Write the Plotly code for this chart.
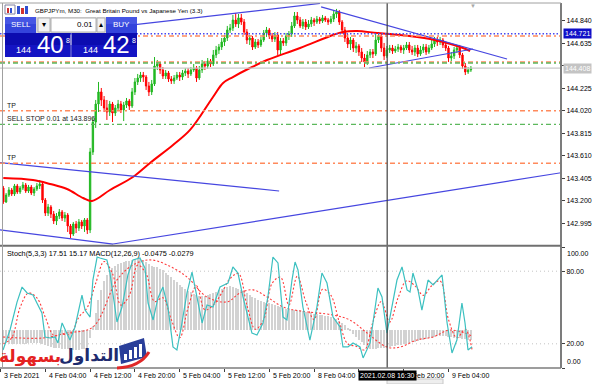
import plotly.graph_objects as go

# ---------------- data ----------------
first_open = 143.316
closes = [143.189, 143.252, 143.298, 143.262, 143.335, 143.280, 143.316, 143.344, 143.289, 143.325,
 143.271, 143.307, 143.335, 143.353, 143.207, 143.088, 143.143, 143.079, 143.016, 143.061,
 143.098, 143.043, 143.070, 142.970, 142.897, 142.988, 142.952, 143.007, 142.970, 143.025,
 142.934, 143.644, 143.917, 144.081, 144.191, 144.118, 144.045, 144.008, 144.081, 143.999,
 144.045, 144.081, 144.027, 144.072, 144.109, 144.063, 144.191, 144.282, 144.318, 144.345,
 144.327, 144.245, 144.191, 144.264, 144.427, 144.446, 144.391, 144.336, 144.364, 144.309,
 144.291, 144.318, 144.345, 144.327, 144.364, 144.382, 144.355, 144.391, 144.409, 144.318,
 144.391, 144.446, 144.427, 144.473, 144.446, 144.528, 144.573, 144.600, 144.646, 144.682,
 144.755, 144.773, 144.846, 144.810, 144.865, 144.828, 144.737, 144.664, 144.682, 144.600,
 144.646, 144.619, 144.664, 144.728, 144.755, 144.701, 144.673, 144.710, 144.573, 144.655,
 144.637, 144.701, 144.719, 144.792, 144.883, 144.846, 144.792, 144.828, 144.783, 144.810,
 144.846, 144.828, 144.855, 144.837, 144.865, 144.846, 144.828, 144.855, 144.901, 144.919,
 144.828, 144.755, 144.682, 144.628, 144.664, 144.591, 144.610, 144.555, 144.500, 144.464,
 144.528, 144.555, 144.537, 144.664, 144.701, 144.591, 144.519, 144.573, 144.591, 144.564,
 144.582, 144.600, 144.573, 144.591, 144.619, 144.573, 144.555, 144.591, 144.537, 144.573,
 144.600, 144.555, 144.591, 144.628, 144.664, 144.646, 144.664, 144.619, 144.591, 144.500,
 144.519, 144.573, 144.591, 144.528, 144.427, 144.373, 144.391, 144.408]
highs = [143.335, 143.271, 143.325, 143.316, 143.353, 143.353, 143.335, 143.371, 143.362, 143.344,
 143.344, 143.325, 143.362, 143.389, 143.380, 143.225, 143.171, 143.161, 143.107, 143.088,
 143.125, 143.116, 143.098, 143.088, 142.988, 143.007, 143.016, 143.034, 143.025, 143.043,
 143.043, 143.681, 143.954, 144.118, 144.282, 144.227, 144.154, 144.118, 144.109, 144.100,
 144.072, 144.118, 144.109, 144.100, 144.136, 144.127, 144.227, 144.318, 144.355, 144.373,
 144.373, 144.345, 144.282, 144.300, 144.509, 144.482, 144.464, 144.418, 144.391, 144.382,
 144.336, 144.345, 144.373, 144.373, 144.391, 144.409, 144.409, 144.418, 144.446, 144.427,
 144.427, 144.482, 144.473, 144.500, 144.491, 144.573, 144.610, 144.628, 144.682, 144.710,
 144.792, 144.810, 144.892, 144.910, 144.901, 144.901, 144.855, 144.764, 144.710, 144.701,
 144.673, 144.673, 144.692, 144.755, 144.783, 144.773, 144.728, 144.737, 144.737, 144.682,
 144.682, 144.728, 144.746, 144.828, 144.919, 144.919, 144.874, 144.855, 144.855, 144.846,
 144.874, 144.865, 144.883, 144.874, 144.892, 144.883, 144.865, 144.883, 144.937, 144.947,
 144.937, 144.846, 144.783, 144.719, 144.692, 144.682, 144.646, 144.628, 144.591, 144.537,
 144.564, 144.582, 144.582, 144.728, 144.737, 144.719, 144.637, 144.610, 144.619, 144.619,
 144.610, 144.628, 144.619, 144.619, 144.646, 144.646, 144.610, 144.619, 144.619, 144.610,
 144.628, 144.628, 144.619, 144.664, 144.692, 144.692, 144.692, 144.682, 144.646, 144.610,
 144.555, 144.600, 144.619, 144.619, 144.546, 144.455, 144.418, 144.427]
lows = [143.171, 143.180, 143.234, 143.243, 143.243, 143.262, 143.262, 143.298, 143.271, 143.271,
 143.252, 143.243, 143.289, 143.307, 143.180, 143.061, 143.061, 143.043, 142.988, 142.979,
 143.034, 143.016, 143.007, 142.916, 142.861, 142.879, 142.906, 142.925, 142.943, 142.916,
 142.897, 142.906, 143.617, 143.863, 144.008, 144.063, 144.008, 143.936, 143.972, 143.917,
 143.972, 144.018, 143.999, 143.926, 144.045, 144.027, 144.045, 144.163, 144.254, 144.282,
 144.282, 144.209, 144.154, 144.163, 144.245, 144.391, 144.355, 144.309, 144.309, 144.282,
 144.264, 144.264, 144.300, 144.291, 144.300, 144.336, 144.318, 144.336, 144.373, 144.282,
 144.300, 144.364, 144.391, 144.400, 144.418, 144.427, 144.500, 144.537, 144.573, 144.610,
 144.655, 144.728, 144.746, 144.783, 144.773, 144.801, 144.710, 144.628, 144.619, 144.573,
 144.582, 144.591, 144.600, 144.646, 144.692, 144.673, 144.646, 144.646, 144.528, 144.528,
 144.610, 144.610, 144.664, 144.692, 144.773, 144.810, 144.773, 144.764, 144.755, 144.764,
 144.783, 144.792, 144.810, 144.810, 144.819, 144.828, 144.801, 144.810, 144.828, 144.865,
 144.801, 144.719, 144.646, 144.591, 144.573, 144.555, 144.546, 144.519, 144.464, 144.418,
 144.437, 144.500, 144.500, 144.519, 144.637, 144.555, 144.482, 144.500, 144.546, 144.537,
 144.546, 144.555, 144.546, 144.537, 144.573, 144.546, 144.528, 144.519, 144.509, 144.519,
 144.546, 144.528, 144.537, 144.573, 144.600, 144.610, 144.619, 144.591, 144.564, 144.464,
 144.473, 144.491, 144.546, 144.500, 144.400, 144.345, 144.355, 144.373]

ma_idx = [1, 11.6, 17.7, 23.75, 29.5, 32.7, 39.1, 47.3, 53.4, 61.6, 67.7, 75.9, 79.5, 83.0, 89.1,
          95.2, 107.0, 118.75, 122.3, 127.3, 134.5, 142.7, 153.4, 159.5, 165.2, 167.7]
ma_val = [143.407, 143.389, 143.353, 143.307, 143.225, 143.198, 143.298, 143.416, 143.544, 143.708,
          143.845, 144.145, 144.273, 144.327, 144.409, 144.482, 144.591, 144.710, 144.737, 144.746,
          144.728, 144.710, 144.673, 144.637, 144.591, 144.564]

# trendlines: (bar0, price0, bar1, price1)
trend_lines = [
    (47.3, 144.801, 114.1, 144.997),
    (114.5, 144.965, 180.9, 144.491),
    (131.6, 144.409, 168.75, 144.582),
    (-0.18, 143.547, 99.5, 143.289),
    (-0.18, 142.934, 40.2, 142.806),
    (40.2, 142.806, 210.0, 143.495),
]

level_prices = [144.721, 144.701, 144.464, 144.455, 144.408, 144.020, 143.896, 143.541]
level_kinds = ["alert", "tp", "tp", "stop", "bid", "tp", "stop", "tp"]
level_texts = {5: "TP", 6: "SELL STOP 0.01 at 143.896", 7: "TP"}

bid, ask = 144.408, 144.428
lot = "0.01"

macd_hist = [-0.060, -0.062, -0.064, -0.065, -0.066, -0.066, -0.065, -0.064, -0.064, -0.063,
 -0.063, -0.062, -0.062, -0.062, -0.066, -0.072, -0.076, -0.080, -0.084, -0.086,
 -0.087, -0.088, -0.089, -0.091, -0.094, -0.095, -0.094, -0.093, -0.092, -0.090,
 -0.090, -0.040, 0.020, 0.080, 0.140, 0.190, 0.230, 0.260, 0.280, 0.295,
 0.305, 0.312, 0.318, 0.322, 0.326, 0.328, 0.332, 0.336, 0.338, 0.336,
 0.330, 0.322, 0.314, 0.305, 0.300, 0.296, 0.290, 0.282, 0.272, 0.262,
 0.250, 0.238, 0.226, 0.214, 0.204, 0.194, 0.186, 0.178, 0.170, 0.164,
 0.160, 0.160, 0.162, 0.165, 0.170, 0.176, 0.182, 0.188, 0.194, 0.200,
 0.204, 0.206, 0.205, 0.200, 0.195, 0.190, 0.183, 0.175, 0.166, 0.158,
 0.150, 0.144, 0.138, 0.134, 0.130, 0.126, 0.122, 0.118, 0.112, 0.108,
 0.103, 0.100, 0.098, 0.097, 0.097, 0.096, 0.094, 0.090, 0.086, 0.082,
 0.079, 0.076, 0.074, 0.072, 0.070, 0.068, 0.065, 0.062, 0.058, 0.052,
 0.044, 0.034, 0.022, 0.010, -0.004, -0.018, -0.032, -0.046, -0.058, -0.070,
 -0.080, -0.088, -0.090, -0.088, -0.085, -0.084, -0.083, -0.082, -0.080, -0.078,
 -0.076, -0.073, -0.070, -0.067, -0.064, -0.061, -0.058, -0.055, -0.052, -0.049,
 -0.046, -0.043, -0.040, -0.036, -0.033, -0.030, -0.028, -0.027, -0.028, -0.032,
 -0.035, -0.037, -0.038, -0.040, -0.042, -0.045, -0.047, -0.0475]
macd_sig_idx = [0.9, 15.2, 23.75, 33.0, 41.6, 47.3, 53.4, 59.5, 66.6, 73.75, 80.9, 85.5, 90.2,
                95.2, 100.9, 107.0, 118.75, 124.8, 130.9, 138.0, 142.7, 148.75, 154.5, 160.5, 168.4]
macd_sig_val = [-0.033, -0.038, -0.014, 0.014, 0.237, 0.308, 0.332, 0.308, 0.251, 0.156, 0.133,
                0.175, 0.190, 0.156, 0.109, 0.090, 0.071, 0.047, -0.014, -0.081, -0.081, -0.047,
                -0.033, 0.0, -0.0279]

st_idx = [0.9,3.4,5.9,7.7,9.5,11.6,13.0,14.8,15.9,17.7,19.5,20.5,22.0,23.75,24.8,26.6,29.1,30.2,32.0,33.0,
          34.5,35.5,38.0,39.1,40.2,41.6,43.4,45.5,47.3,49.8,51.6,52.7,54.5,56.25,58.0,59.8,61.6,63.0,64.8,66.6,
          68.4,70.2,72.0,73.75,75.9,78.4,81.25,83.0,84.8,86.6,89.8,91.6,93.75,95.5,97.3,99.1,100.9,102.3,104.1,105.2,
          106.25,108.0,110.5,113.0,114.8,116.6,118.75,121.25,122.3,124.1,125.9,128.4,129.5,132.0,134.8,136.25,138.0,
          139.1,141.6,143.4,145.2,146.25,147.3,149.1,150.5,152.7,154.5,157.7,159.5,161.25,163.0,164.8,165.9,166.96,168.4]
st_val = [14.9,31.4,54.5,66.9,62.0,60.3,53.7,45.5,25.6,24.8,25.6,20.7,37.2,28.9,23.1,33.9,60.3,47.9,42.1,72.7,
          91.7,90.9,89.3,78.5,62.0,38.0,50.4,76.9,89.3,90.9,82.6,53.7,39.7,57.9,66.9,50.4,17.4,14.9,37.2,62.0,
          79.3,57.9,37.2,52.1,50.4,66.9,70.2,83.5,78.5,58.7,28.9,27.3,37.2,58.7,91.7,86.8,42.1,39.7,72.7,87.6,
          81.0,50.4,23.1,50.4,78.5,70.2,42.1,33.9,17.4,17.4,20.7,17.4,8.3,20.7,66.1,58.7,28.9,
          42.1,72.7,83.5,64.5,62.8,78.5,64.5,47.9,72.7,68.6,76.9,37.2,12.4,23.1,53.7,37.2,14.9,17.51]
sig_idx = [1,4,7,10,13,16,19,22,25,28,31,34,37,40,43,46,49,52,55,58,61,64,67,70,73,76,79,82,85,88,91,94,
           97,100,103,106,109,112,115,118,121,124,127,130,133,136,139,142,145,148,151,154,157,160,163,166,168.4]
sig_val = [20,25,50,62,58,42,27,28,28,42,50,70,88,78,52,60,85,78,55,58,40,25,50,68,48,52,62,74,78,52,32,40,
           70,75,52,76,55,40,65,60,38,20,18,15,38,55,38,58,72,68,60,68,72,40,25,32,15.17]

tick_idx = [0, 16, 32, 48, 64, 80, 96, 112, 128, 144, 160]
tick_text = ["3 Feb 2021", "4 Feb 04:00", "4 Feb 12:00", "4 Feb 20:00", "5 Feb 04:00", "5 Feb 12:00",
             "5 Feb 20:00", "8 Feb 04:00", "8 Feb 12:00", "8 Feb 20:00", "9 Feb 04:00"]
price_ticks = [144.840, 144.635, 144.430, 144.225, 144.020, 143.815, 143.610, 143.405, 143.200, 142.995]
osc_ticks = [0, 20, 80, 100]
cross_idx = 138.1
cross_label = "2021.02.08 16:30"

# ---------------- geometry helpers ----------------
PL, PR, PT, PB = 0, 561, 3, 368
def xp(x): return (x - PL) / (PR - PL)
def yp(y): return (PB - y) / (PB - PT)

FONT = "Liberation Sans"
bars = list(range(1, len(closes) + 1))
opens = [first_open] + closes[:-1]

fig = go.Figure()
fig.add_trace(go.Candlestick(
    x=bars, open=opens, high=highs, low=lows, close=closes, xaxis="x", yaxis="y",
    increasing=dict(line=dict(color="#22b822", width=1), fillcolor="#22b822"),
    decreasing=dict(line=dict(color="#ff0000", width=1), fillcolor="#ff0000"),
    whiskerwidth=0, hoverinfo="skip", showlegend=False))
fig.add_trace(go.Scatter(x=ma_idx, y=ma_val, mode="lines", yaxis="y",
                         line=dict(color="#ff0000", width=2, shape="spline"), showlegend=False))
for (a0, p0, a1, p1) in trend_lines:
    fig.add_trace(go.Scatter(x=[a0, a1], y=[p0, p1], mode="lines", yaxis="y",
                             line=dict(color="#4646e0", width=1.2), showlegend=False))

# lower window
fig.add_trace(go.Bar(x=bars, y=macd_hist, width=0.4, yaxis="y2", marker=dict(color="#d2d2d2", line=dict(width=0)),
                     showlegend=False))
fig.add_trace(go.Scatter(x=macd_sig_idx, y=macd_sig_val, mode="lines", yaxis="y2",
                         line=dict(color="#ff3c3c", width=1.1, dash="2px,2px", shape="spline"), showlegend=False))
fig.add_trace(go.Scatter(x=sig_idx, y=sig_val, mode="lines", yaxis="y3",
                         line=dict(color="#ff3c3c", width=1.1, dash="2px,2px", shape="spline"), showlegend=False))
fig.add_trace(go.Scatter(x=st_idx, y=st_val, mode="lines", yaxis="y3",
                         line=dict(color="#3cc0c0", width=1.2), showlegend=False))

style = {"alert": dict(color="#4a4af0", width=1.3, dash="1.5px,2px"),
         "tp": dict(color="#ff8a5c", width=1.5, dash="5px,3px,2px,3px"),
         "stop": dict(color="#5cb85c", width=1.4, dash="5px,3px,2px,3px"),
         "bid": dict(color="#c8c8c8", width=1.2, dash="solid")}
shapes = []
for p, k in zip(level_prices, level_kinds):
    shapes.append(dict(type="line", xref="paper", yref="y", x0=0, x1=1, y0=p, y1=p,
                       line=style[k], layer="above"))
for v in (20, 80):
    shapes.append(dict(type="line", xref="paper", yref="y3", x0=0, x1=1, y0=v, y1=v,
                       line=dict(color="#c4c4c4", width=1, dash="1px,3px"), layer="below"))
# crosshair
shapes.append(dict(type="line", xref="x", yref="paper", x0=cross_idx, x1=cross_idx, y0=0, y1=1,
                   line=dict(color="#404040", width=1.2), layer="above"))
# frames
G = "#7c7c7c"
shapes += [
    dict(type="line", xref="paper", yref="paper", x0=1, x1=1, y0=0, y1=1, line=dict(color=G, width=2)),
    dict(type="line", xref="paper", yref="paper", x0=0, x1=1, y0=yp(245.8), y1=yp(245.8), line=dict(color="#707070", width=2)),
    dict(type="line", xref="paper", yref="paper", x0=0, x1=1, y0=0, y1=0, line=dict(color=G, width=1.5)),
    dict(type="line", xref="paper", yref="paper", x0=0, x1=1, y0=1, y1=1, line=dict(color="#a0a0a0", width=1)),
    dict(type="line", xref="paper", yref="paper", x0=xp(2.5), x1=xp(2.5), y0=0, y1=1, line=dict(color="#a0a0a0", width=1)),
]

def rect(x0, y0, x1, y1, fill, line=None):
    return dict(type="rect", xref="paper", yref="paper", x0=xp(x0), x1=xp(x1), y0=yp(y1), y1=yp(y0),
                fillcolor=fill, line=dict(width=0) if line is None else line, layer="above")

# one-click trading panel
shapes += [
    rect(5, 17, 36, 33, "#3444dc"),
    rect(5, 17, 36, 24, "#4656e4"),
    rect(36, 17, 106, 33, "#d8d8d8"),
    rect(38, 18, 50, 32, "#f2f2f2", dict(color="#b0b0b0", width=1)),
    rect(51, 18, 96, 32, "#ffffff", dict(color="#b0b0b0", width=1)),
    rect(97, 18, 105, 32, "#f2f2f2", dict(color="#b0b0b0", width=1)),
    rect(106, 17, 137, 33, "#3444dc"),
    rect(106, 17, 137, 24, "#4656e4"),
    rect(5, 33, 70.5, 57, "#0c0cb0"),
    rect(5, 45, 70.5, 57, "#1414c4"),
    rect(71.5, 33, 137, 57, "#0c0cb0"),
    rect(71.5, 45, 137, 57, "#1414c4"),
]
# title icon
shapes += [
    rect(5, 5, 15, 14, "#ffffff", dict(color="#8080a0", width=1)),
    rect(7, 8, 9, 13, "#d03030"), rect(10, 8, 12, 13, "#3050d0"),
    rect(17, 6, 20, 14, "#3050d0"), rect(21, 8, 24, 14, "#d03030"), rect(25, 6, 28, 14, "#3050d0"),
]
# logo
shapes += [
    dict(type="path", xref="paper", yref="paper", layer="above", fillcolor="#2a3f9a", line=dict(width=0),
         path="M %f,%f L %f,%f L %f,%f L %f,%f Z" % (xp(119), yp(346), xp(144), yp(338), xp(147), yp(357), xp(121), yp(364))),
]
for (bx, btop) in [(124, 354), (129, 350), (134, 347), (139, 344)]:
    shapes.append(rect(bx, btop, bx + 3, 360 - (bx - 124) * 0.2, "#ffffff"))
shapes.append(dict(type="path", xref="paper", yref="paper", layer="above", line=dict(color="#e02828", width=3),
                   path="M %f,%f Q %f,%f %f,%f" % (xp(117), yp(368), xp(140), yp(367), xp(149), yp(352))))
# tooltip stub under cursor
shapes.append(rect(387, 379, 443, 384, "#eeeeee", dict(color="#c8c8c8", width=1)))

ann = []
def text(x, y, s, size=7, color="#000000", anchor="left", yanchor="middle", **kw):
    d = dict(xref="paper", yref="paper", x=xp(x), y=yp(y), text=s, showarrow=False, xanchor=anchor,
             yanchor=yanchor, font=dict(family=kw.pop("family", FONT), size=size, color=color))
    d.update(kw)
    ann.append(d)

text(33, 10, "GBPJPYm, M30:  Great Britain Pound vs Japanese Yen (3.3)", size=6.2)
# level texts
for i, s in level_texts.items():
    ann.append(dict(xref="paper", yref="y", x=xp(5), y=level_prices[i], text=s, showarrow=False,
                    xanchor="left", yanchor="bottom", yshift=0, font=dict(family=FONT, size=7, color="#202020")))
# price boxes on axis
ann.append(dict(xref="paper", yref="y", x=xp(563), y=level_prices[0], text="%.3f" % level_prices[0],
                showarrow=False, xanchor="left", yanchor="middle", bgcolor="#1010c8", borderpad=1,
                font=dict(family=FONT, size=7, color="#ffffff")))
ann.append(dict(xref="paper", yref="y", x=xp(563), y=bid, text="%.3f" % bid,
                showarrow=False, xanchor="left", yanchor="middle", bgcolor="#c4c4c4", borderpad=1,
                font=dict(family=FONT, size=7, color="#ffffff")))
# oscillator scale end labels (kept inside the window like the terminal does)
ann.append(dict(xref="paper", yref="y3", x=xp(565), y=100, text="%.2f" % osc_ticks[-1], showarrow=False,
                xanchor="left", yanchor="top", yshift=-1, font=dict(family=FONT, size=7, color="#000000")))
ann.append(dict(xref="paper", yref="y3", x=xp(565), y=0, text="%.2f" % osc_ticks[0], showarrow=False,
                xanchor="left", yanchor="bottom", yshift=1, font=dict(family=FONT, size=7, color="#000000")))
# oscillator label
text(5, 254, "Stoch(5,3,3) %.2f %.2f MACD(12,26,9) %.4f %.4f" % (st_val[-1], sig_val[-1], macd_hist[-1], macd_sig_val[-1]), size=7.3)
# x labels (the one fully under the crosshair time box is hidden, as in the terminal)
for ti, tt in zip(tick_idx, tick_text):
    if 0 < cross_idx - ti < 12:
        continue
    ann.append(dict(xref="x", yref="paper", x=ti, y=yp(375.5), text=tt, showarrow=False, xanchor="left",
                    xshift=1.5, yanchor="middle", font=dict(family=FONT, size=7, color="#000000")))
ann.append(dict(xref="x", yref="paper", x=cross_idx, y=yp(375.5), text=cross_label, showarrow=False,
                xanchor="center", yanchor="middle", bgcolor="#000000", borderpad=1,
                font=dict(family=FONT, size=7, color="#ffffff")))
# trading panel text
bs, as_ = "%.3f" % bid, "%.3f" % ask
text(20.5, 25, "SELL", size=8, color="#ffffff", anchor="center")
text(121.5, 25, "BUY", size=8, color="#ffffff", anchor="center")
text(95, 25, lot, size=8, anchor="right")
text(44, 25, "▾", size=8, anchor="center")
text(101, 25, "▴", size=8, anchor="center")
for (x0, s) in [(5, bs), (71.5, as_)]:
    text(x0 + 28, 50, s[:3], size=9, color="#ffffff", anchor="right")
    text(x0 + 45, 45, s[4:6], size=24, color="#ffffff", anchor="center")
    text(x0 + 58.5, 40, s[6], size=7, color="#ffffff", anchor="left")
# shift marker
text(473, 5.5, "▼", size=6, color="#a8a8a8", anchor="center")
# Arabic logo text
text(89, 355, "<b>التداول</b>", size=17, color="#1d2b6e", anchor="center", family="DejaVu Sans")
text(30, 356, "<b>بسهولة</b>", size=17, color="#e42222", anchor="center", family="DejaVu Sans")

fig.update_layout(
    width=600, height=384, margin=dict(l=PL, r=600 - PR, t=PT, b=384 - PB),
    paper_bgcolor="#ffffff", plot_bgcolor="#ffffff", showlegend=False, bargap=0,
    font=dict(family=FONT, size=7, color="#000000"),
    xaxis=dict(domain=[0, 1], range=[-0.18, 200.18], anchor="y2", showgrid=False, zeroline=False,
               tickvals=tick_idx, ticks="outside", ticklen=3, tickcolor="#404040", showticklabels=False,
               rangeslider=dict(visible=False), showline=False, fixedrange=True),
    yaxis=dict(domain=[yp(245.5), 1], range=[142.7926, 145.001], anchor="x", side="right",
               tickvals=price_ticks,
               ticktext=["" if abs(v - bid) < 0.03 else "%.3f" % v for v in price_ticks],
               ticks="outside", ticklen=3,
               tickcolor="#404040", showgrid=False, zeroline=False, tickfont=dict(size=7)),
    yaxis2=dict(domain=[0, yp(247)], range=[-0.18, 0.393], anchor="x", visible=False, showgrid=False,
                zeroline=False),
    yaxis3=dict(overlaying="y2", range=[0, 100], anchor="x", side="right", tickvals=osc_ticks,
                ticktext=["" if v in (0, 100) else "%.2f" % v for v in osc_ticks], ticks="outside", ticklen=3,
                tickcolor="#404040", showgrid=False, zeroline=False, tickfont=dict(size=7)),
    shapes=shapes, annotations=ann,
)
fig.write_html("out.html")
